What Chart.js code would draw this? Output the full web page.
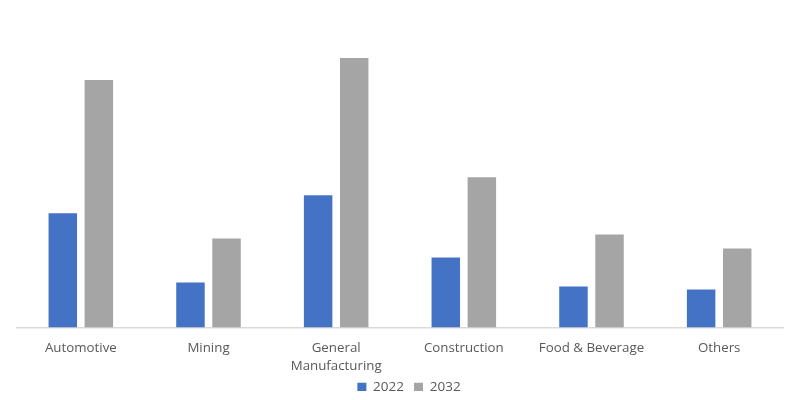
<!DOCTYPE html>
<html>
<head>
<meta charset="utf-8">
<script src="https://cdn.jsdelivr.net/npm/chart.js@4"></script>
<style>
  html, body { margin: 0; padding: 0; background: #fff; }
  #wrap { width: 800px; height: 400px; }
</style>
</head>
<body>
<div id="wrap"><canvas id="myChart"></canvas></div>
<script>
const categories = ["Automotive", "Mining", ["General", "Manufacturing"], "Construction", "Food & Beverage", "Others"];
const values2022 = [11.4, 4.5, 13.2, 7.0, 4.1, 3.8];
const values2032 = [24.7, 8.9, 26.9, 15.0, 9.3, 7.9];

// legend keeps its item spacing but takes less height, and sits a bit higher / right
const tightLegend = {
  id: "tightLegend",
  beforeInit(chart) {
    const fit = chart.legend.fit;
    chart.legend.fit = function () {
      fit.call(this);
      this.height -= 13;
    };
  },
  afterLayout(chart) {
    const lg = chart.legend;
    lg.top -= 9;
    lg.bottom -= 9;
    lg.left += 9;
    lg.right += 9;
  },
};

const ctx = document.getElementById("myChart").getContext("2d");
const myChart = new Chart(ctx, {
  type: "bar",
  data: {
    labels: categories,
    datasets: [
      {
        label: "2022",
        data: values2022,
        backgroundColor: "#4472C4",
        categoryPercentage: 0.565,
        barPercentage: 0.79,
      },
      {
        label: "2032",
        data: values2032,
        backgroundColor: "#A5A5A5",
        categoryPercentage: 0.565,
        barPercentage: 0.79,
      },
    ],
  },
  options: {
    responsive: true,
    maintainAspectRatio: false,
    animation: false,
    layout: {
      padding: { top: 27, left: 17, right: 17, bottom: 0 },
    },
    plugins: {
      tooltip: { enabled: false },
      legend: {
        position: "bottom",
        labels: {
          boxWidth: 9,
          boxHeight: 9,
          padding: 10,
          color: "#595959",
          font: { family: "Open Sans", size: 13.5 },
        },
      },
    },
    scales: {
      x: {
        grid: { display: false },
        border: { color: "#D9D9D9", width: 1.5 },
        ticks: {
          color: "#595959",
          padding: 4,
          maxRotation: 0,
          autoSkip: false,
          font: { family: "Open Sans", size: 13.3, lineHeight: 1.35 },
        },
      },
      y: {
        display: false,
        min: 0,
        max: 30,
      },
    },
  },
  plugins: [tightLegend],
});
</script>
</body>
</html>
